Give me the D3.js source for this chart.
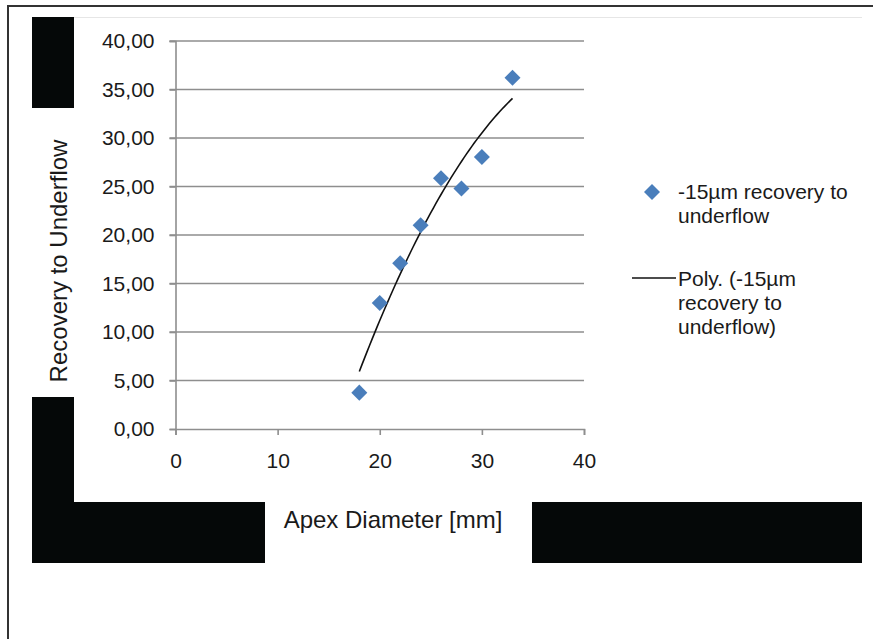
<!DOCTYPE html>
<html>
<head>
<meta charset="utf-8">
<script src="https://cdn.jsdelivr.net/npm/d3@7"></script>
<style>
  html, body { margin: 0; padding: 0; background: #fff; }
  svg { display: block; }
  text { font-family: "Liberation Sans", Arial, sans-serif; fill: #1a1a1a; }
</style>
</head>
<body>
<svg id="chart" width="873" height="639"></svg>
<script>
// Apex diameter (mm) against -15µm recovery to underflow
const apexDiameter = [18, 20, 22, 24, 26, 28, 30, 33];
const recovery = [3.75, 13.0, 17.1, 21.0, 25.85, 24.8, 28.05, 36.2];
const xTicks = [0, 10, 20, 30, 40];
const yTicks = [0, 5, 10, 15, 20, 25, 30, 35, 40];
const seriesName = "-15µm recovery to underflow";
const trendName = "Poly. (-15µm recovery to underflow)";
const xTitle = "Apex Diameter [mm]";
const yTitle = "Recovery to Underflow";

const svg = d3.select("#chart");

// outer frame
svg.append("path")
  .attr("d", "M8,639 L8,6 L873,6")
  .attr("fill", "none").attr("stroke", "#333").attr("stroke-width", 2);

// chart backdrop: dark surround with white plot and title panels
svg.append("rect").attr("x", 32).attr("y", 17).attr("width", 830).attr("height", 546).attr("fill", "#050808");
svg.append("rect").attr("x", 74).attr("y", 17).attr("width", 788).attr("height", 485).attr("fill", "#fff");
svg.append("rect").attr("x", 32).attr("y", 108).attr("width", 42).attr("height", 289).attr("fill", "#fff");
svg.append("rect").attr("x", 265).attr("y", 502).attr("width", 267).attr("height", 61).attr("fill", "#fff");
svg.append("line").attr("x1", 74).attr("x2", 862).attr("y1", 17.5).attr("y2", 17.5)
  .attr("stroke", "#e6e6e6").attr("stroke-width", 1);

const x = d3.scaleLinear().domain([0, 40]).range([175.5, 584]);
const y = d3.scaleLinear().domain([0, 40]).range([429, 41]);

const locale = d3.formatLocale({ decimal: ",", thousands: ".", grouping: [3], currency: ["", ""] });
const fmtY = locale.format(".2f");

// horizontal gridlines
svg.append("g").selectAll("line").data(yTicks.filter(d => d > 0)).join("line")
  .attr("x1", x(0) - 6).attr("x2", x(40))
  .attr("y1", d => y(d)).attr("y2", d => y(d))
  .attr("stroke", "#8e8e8e").attr("stroke-width", 1.6);

// y axis
const yAxis = svg.append("g").attr("transform", `translate(${x(0)},0)`)
  .call(d3.axisLeft(y).tickValues(yTicks).tickFormat(fmtY).tickSize(6).tickPadding(15));
yAxis.select(".domain").attr("stroke", "#8e8e8e").attr("stroke-width", 1.6);
yAxis.selectAll(".tick line").attr("stroke", "#8e8e8e").attr("stroke-width", 1.6);
yAxis.selectAll(".tick text").style("font-size", "21px")
  .style("font-family", "'Liberation Sans', Arial, sans-serif").attr("fill", "#1a1a1a");

// x axis
const xAxis = svg.append("g").attr("transform", `translate(0,${y(0)})`)
  .call(d3.axisBottom(x).tickValues(xTicks).tickFormat(d3.format("d")).tickSize(6).tickPadding(18));
xAxis.select(".domain").attr("stroke", "#8e8e8e").attr("stroke-width", 1.6);
xAxis.selectAll(".tick line").attr("stroke", "#8e8e8e").attr("stroke-width", 1.6);
xAxis.selectAll(".tick text").style("font-size", "21px")
  .style("font-family", "'Liberation Sans', Arial, sans-serif").attr("fill", "#1a1a1a");

// second-order polynomial trendline (least squares)
function polyFit2(xs, ys) {
  const n = xs.length;
  let s = [0, 0, 0, 0, 0], t = [0, 0, 0];
  for (let i = 0; i < n; i++) {
    for (let k = 0; k < 5; k++) s[k] += Math.pow(xs[i], k);
    for (let k = 0; k < 3; k++) t[k] += ys[i] * Math.pow(xs[i], k);
  }
  const A = [[s[0], s[1], s[2], t[0]], [s[1], s[2], s[3], t[1]], [s[2], s[3], s[4], t[2]]];
  for (let c = 0; c < 3; c++) {
    for (let r = c + 1; r < 3; r++) {
      const f = A[r][c] / A[c][c];
      for (let k = c; k < 4; k++) A[r][k] -= f * A[c][k];
    }
  }
  const b = [0, 0, 0];
  for (let r = 2; r >= 0; r--) {
    let v = A[r][3];
    for (let k = r + 1; k < 3; k++) v -= A[r][k] * b[k];
    b[r] = v / A[r][r];
  }
  return v => b[0] + b[1] * v + b[2] * v * v;
}
const trend = polyFit2(apexDiameter, recovery);
const xMin = d3.min(apexDiameter), xMax = d3.max(apexDiameter);
const trendPts = d3.range(0, 61).map(i => xMin + (xMax - xMin) * i / 60);
svg.append("path")
  .datum(trendPts)
  .attr("d", d3.line().x(d => x(d)).y(d => y(trend(d))).curve(d3.curveLinear))
  .attr("fill", "none").attr("stroke", "#111").attr("stroke-width", 1.6);

// data points as diamonds
const diamond = d3.symbol().type(d3.symbolSquare).size(128);
svg.append("g").selectAll("path").data(apexDiameter.map((d, i) => [d, recovery[i]])).join("path")
  .attr("d", diamond)
  .attr("transform", d => `translate(${x(d[0])},${y(d[1])}) rotate(45)`)
  .attr("fill", "#4a7ebb");

// axis titles
svg.append("text").attr("x", 393).attr("y", 528).attr("text-anchor", "middle")
  .style("font-size", "24px").text(xTitle);
svg.append("text").attr("transform", "translate(67,261) rotate(-90)").attr("text-anchor", "middle")
  .style("font-size", "24px").text(yTitle);

// legend
const lg = svg.append("g");
lg.append("path").attr("d", diamond).attr("transform", "translate(652,192) rotate(45)").attr("fill", "#4a7ebb");
const l1 = lg.append("text").attr("x", 678).attr("y", 199).style("font-size", "21px");
l1.append("tspan").attr("x", 678).text("-15µm recovery to");
l1.append("tspan").attr("x", 678).attr("dy", 24).text("underflow");
lg.append("line").attr("x1", 632).attr("x2", 676).attr("y1", 278).attr("y2", 278)
  .attr("stroke", "#111").attr("stroke-width", 1.6);
const l2 = lg.append("text").attr("x", 678).attr("y", 286).style("font-size", "21px");
l2.append("tspan").attr("x", 678).text("Poly. (-15µm");
l2.append("tspan").attr("x", 678).attr("dy", 24).text("recovery to");
l2.append("tspan").attr("x", 678).attr("dy", 24).text("underflow)");
</script>
</body>
</html>
